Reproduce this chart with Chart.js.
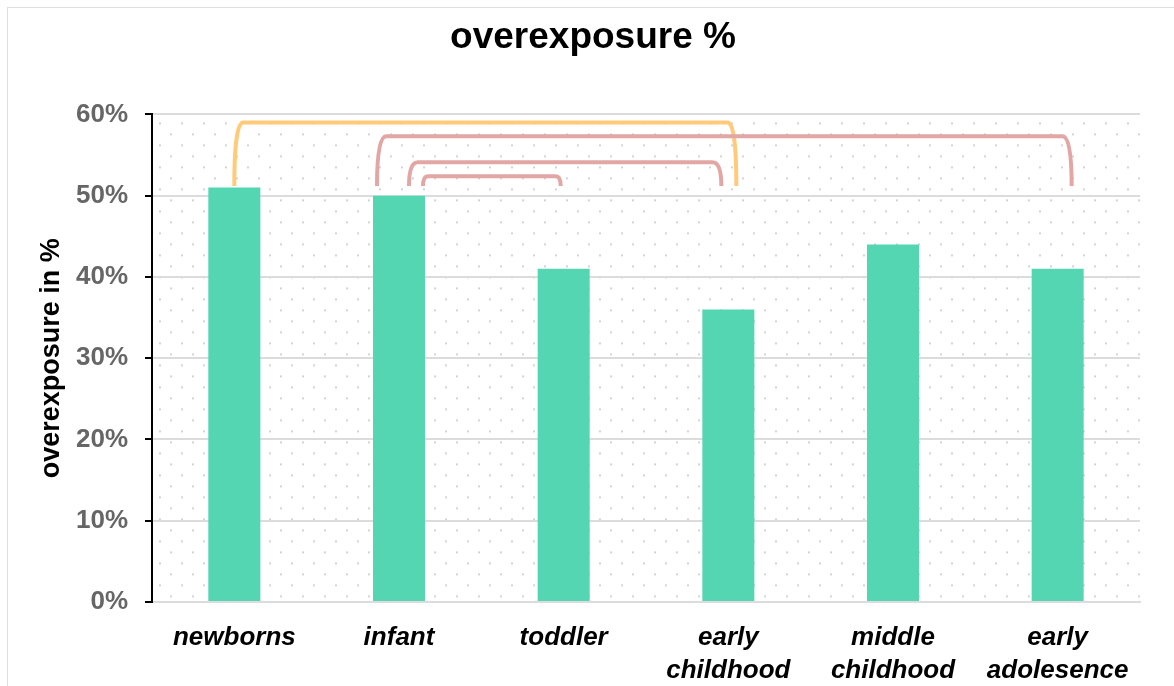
<!DOCTYPE html>
<html>
<head>
<meta charset="utf-8">
<script src="https://cdn.jsdelivr.net/npm/chart.js@4/dist/chart.umd.min.js"></script>
<style>
    html, body { margin: 0; padding: 0; background: #fff; overflow: hidden; }
    #frame { position: absolute; left: 7px; top: 7px; width: 1190px; height: 700px; border: 1px solid #dedede; }
    #chart { position: absolute; left: 0; top: 0; }
</style>
</head>
<body>
<div id="frame"></div>
<canvas id="chart" width="1174" height="686"></canvas>
<script>
// data
const categories = ['newborns', 'infant', 'toddler', ['early', 'childhood'], ['middle', 'childhood'], ['early', 'adolesence']];
const overexposure = [51, 50, 41, 36, 44, 41];
const yTicks = [0, 10, 20, 30, 40, 50, 60];

// significance brackets: from category, to category, height of the bar in %
const bracketFrom = [0, 1, 1, 1];
const bracketTo = [3, 5, 3, 2];
const bracketTop = [59.0, 57.3, 54.1, 52.4];
const bracketBase = 51.2;

// drawing details for the brackets (not data)
const bracketColors = ['#ffca7a', '#e2a7a4', '#e2a7a4', '#e2a7a4'];
const bracketShift = [[0, 8], [-22, 14], [10, -7], [24, -3]];

const dotPlugin = {
    id: 'dots',
    afterLayout(chart) {
        // the title sits a little right of the canvas centre in the reference
        if (chart.titleBlock) {
            chart.titleBlock.left += 12;
            chart.titleBlock.right += 34;
        }
    },
    beforeDraw(chart) {
        let area = chart.chartArea;
        let ctx = chart.ctx;
        ctx.save();
        ctx.fillStyle = '#d4d4d4';
        let row = 0;
        for (let y = area.top + 9; y < area.bottom; y += 11) {
            let start = area.left + (row % 2 === 0 ? 8 : 19);
            for (let x = start; x < area.right; x += 22) {
                ctx.fillRect(x - 1, y - 1, 2, 2);
            }
            row++;
        }
        ctx.restore();
    }
};

const bracketPlugin = {
    id: 'brackets',
    afterDatasetsDraw(chart) {
        let ctx = chart.ctx;
        let xs = chart.scales.x;
        let ys = chart.scales.y;
        let yb = ys.getPixelForValue(bracketBase);
        ctx.save();
        ctx.lineWidth = 4;
        ctx.lineCap = 'butt';
        ctx.lineJoin = 'round';
        for (let i = 0; i < bracketFrom.length; i++) {
            let x1 = xs.getPixelForValue(bracketFrom[i]) + bracketShift[i][0];
            let x2 = xs.getPixelForValue(bracketTo[i]) + bracketShift[i][1];
            let yt = ys.getPixelForValue(bracketTop[i]);
            let r = Math.min(9, (yb - yt) * 0.5);
            ctx.strokeStyle = bracketColors[i];
            ctx.beginPath();
            ctx.moveTo(x1, yb);
            ctx.quadraticCurveTo(x1, yt, x1 + r, yt);
            ctx.lineTo(x2 - r, yt);
            ctx.quadraticCurveTo(x2, yt, x2, yb);
            ctx.stroke();
        }
        ctx.restore();
    }
};

const fontFamily = '"Liberation Sans", Arial, sans-serif';

new Chart(document.getElementById('chart'), {
    type: 'bar',
    data: {
        labels: categories,
        datasets: [{
            label: 'overexposure',
            data: overexposure,
            backgroundColor: '#55d6b2',
            barPercentage: 0.316,
            categoryPercentage: 1
        }]
    },
    options: {
        responsive: false,
        animation: false,
        devicePixelRatio: 1,
        layout: {padding: {left: 0, right: 34, top: 0, bottom: 0}},
        plugins: {
            legend: {display: false},
            tooltip: {enabled: false},
            title: {
                display: true,
                text: 'overexposure %',
                color: '#000',
                font: {family: fontFamily, size: 37, weight: 'bold'},
                padding: {top: 16, bottom: 54}
            }
        },
        scales: {
            x: {
                grid: {display: false, drawTicks: false},
                border: {color: '#dcdcdc', width: 2},
                ticks: {
                    color: '#000',
                    padding: 19,
                    maxRotation: 0,
                    autoSkip: false,
                    font: {family: fontFamily, size: 26, weight: 'bold', style: 'italic', lineHeight: 1.27}
                },
                afterFit(scale) {
                    scale.height = 84;
                }
            },
            y: {
                min: 0,
                max: 60,
                afterBuildTicks(scale) {
                    scale.ticks = yTicks.map(v => ({value: v}));
                },
                grid: {color: '#dcdcdc', lineWidth: 2, tickColor: '#000', tickWidth: 2, tickLength: 7},
                border: {color: '#000', width: 2},
                ticks: {
                    color: '#666',
                    padding: 17,
                    font: {family: fontFamily, size: 26, weight: 'bold'},
                    callback: v => v + '%'
                },
                title: {
                    display: true,
                    text: 'overexposure in %',
                    color: '#000',
                    font: {family: fontFamily, size: 27, weight: 'bold'},
                    padding: {top: 35, bottom: 0}
                },
                afterFit(scale) {
                    scale.width = 152;
                }
            }
        }
    },
    plugins: [dotPlugin, bracketPlugin]
});
</script>
</body>
</html>
